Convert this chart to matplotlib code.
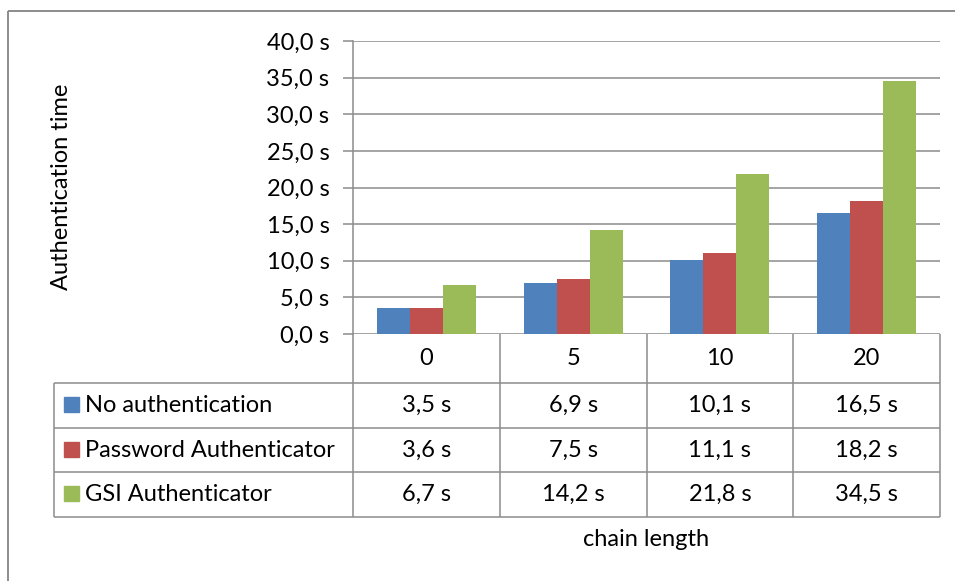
import numpy as np
import matplotlib.pyplot as plt
from matplotlib.patches import Rectangle

plt.rcParams['font.family'] = ['Lato', 'DejaVu Sans']

categories = ["0", "5", "10", "20"]
series_names = ["No authentication", "Password Authenticator", "GSI Authenticator"]
no_auth = [3.5, 6.9, 10.1, 16.5]
password_auth = [3.6, 7.5, 11.1, 18.2]
gsi_auth = [6.7, 14.2, 21.8, 34.5]
colors = ["#4F81BD", "#C0504D", "#9BBB59"]
y_ticks = [0, 5, 10, 15, 20, 25, 30, 35, 40]

W, H = 955, 581
GRID = "#8C8C8C"
FS = 17

fig = plt.figure(figsize=(W / 100, H / 100), dpi=100)

# overlay in pixel coordinates for border and data table
ov = fig.add_axes([0, 0, 1, 1])
ov.set_xlim(0, W)
ov.set_ylim(H, 0)
ov.axis("off")

# plot area geometry (pixels)
x0, x1 = 353, 940
y_top, y_base = 41, 334
ax = fig.add_axes([x0 / W, 1 - y_base / H, (x1 - x0) / W, (y_base - y_top) / H])

series = [no_auth, password_auth, gsi_auth]
n = len(series)
bw = 0.225
x = np.arange(len(categories))
for i, vals in enumerate(series):
    ax.bar(x + (i - 1) * bw, vals, width=bw, color=colors[i], zorder=3)

ax.set_xlim(-0.5, len(categories) - 0.5)
ax.set_ylim(0, 40)
ax.set_yticks(y_ticks)
ax.set_yticklabels([f"{v:.1f} s".replace(".", ",") for v in y_ticks], fontsize=FS)
ax.set_xticks([])
ax.grid(axis="y", color=GRID, lw=1.1, zorder=0)
for s in ["top", "right", "bottom"]:
    ax.spines[s].set_visible(False)
ax.spines["left"].set_color(GRID)
ax.spines["left"].set_linewidth(1.1)
ax.tick_params(axis="y", length=7, width=1.1, color=GRID, pad=10)
ax.set_facecolor("none")

# outer chart border
ov.add_patch(Rectangle((8, 11), 1000, 1000, fill=False, ec=GRID, lw=1.4))

# y label
ov.text(62, 187, "Authentication time", rotation=90, ha="center", va="center", fontsize=FS)

# data table
col_w = (x1 - x0) / len(categories)
cat_bottom = 383
row_h = 44.7
tab_left = 54
tab_bottom = cat_bottom + row_h * n

def line(xs, ys):
    ov.plot(xs, ys, color=GRID, lw=1.1, solid_capstyle="butt")

# vertical lines
for j in range(len(categories) + 1):
    line([x0 + j * col_w] * 2, [y_base, tab_bottom])
line([tab_left] * 2, [cat_bottom, tab_bottom])
# horizontal lines
line([x0, x1], [cat_bottom, cat_bottom])
line([tab_left, x0], [cat_bottom, cat_bottom])
for r in range(1, n + 1):
    line([tab_left, x1], [cat_bottom + r * row_h] * 2)

for j, c in enumerate(categories):
    ov.text(x0 + (j + 0.5) * col_w, (y_base + cat_bottom) / 2, c,
            ha="center", va="center", fontsize=FS)

for i, (name, vals) in enumerate(zip(series_names, series)):
    yc = cat_bottom + (i + 0.5) * row_h
    ov.add_patch(Rectangle((64, yc - 8.5), 15, 15, color=colors[i]))
    ov.text(85, yc, name, ha="left", va="center", fontsize=FS)
    for j, v in enumerate(vals):
        ov.text(x0 + (j + 0.5) * col_w, yc, f"{v:.1f} s".replace(".", ","),
                ha="center", va="center", fontsize=FS)

ov.text(646, 540, "chain length", ha="center", va="center", fontsize=FS)

fig.savefig("out.png", dpi=100)
